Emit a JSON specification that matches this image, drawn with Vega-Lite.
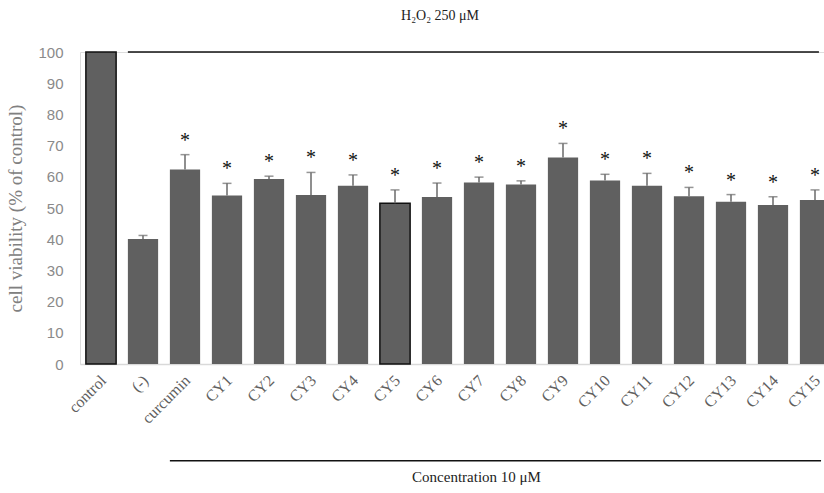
{
  "$schema": "https://vega.github.io/schema/vega-lite/v6.json",
  "autosize": "none",
  "width": 744,
  "height": 312,
  "padding": {"left": 80, "top": 52, "right": 0, "bottom": 129},
  "background": "white",
  "config": {
    "axisY": {
      "titleFont": "Liberation Serif", "titleFontSize": 19, "titleFontWeight": "normal", "titleColor": "#808080",
      "titlePadding": 12,
      "labelFont": "Liberation Sans", "labelFontSize": 15, "labelColor": "#8a8a8a", "labelPadding": 17,
      "labelOverlap": false, "labelFlush": false,
      "ticks": false, "domain": false, "grid": false
    }
  },
  "title": {"text": "H₂O₂ 250 μM", "font": "Liberation Serif", "fontSize": 14, "fontWeight": "normal", "color": "#222", "dx": -12, "offset": 22},
  "data": {"values": [
    {"name": "control", "value": 100, "err": null, "sig": null},
    {"name": "(-)", "value": 40.1, "err": 41.2, "sig": null},
    {"name": "curcumin", "value": 62.3, "err": 67.1, "sig": "*"},
    {"name": "CY1", "value": 54.0, "err": 57.9, "sig": "*"},
    {"name": "CY2", "value": 59.3, "err": 60.2, "sig": "*"},
    {"name": "CY3", "value": 54.2, "err": 61.4, "sig": "*"},
    {"name": "CY4", "value": 57.1, "err": 60.6, "sig": "*"},
    {"name": "CY5", "value": 51.5, "err": 55.8, "sig": "*"},
    {"name": "CY6", "value": 53.5, "err": 58.0, "sig": "*"},
    {"name": "CY7", "value": 58.2, "err": 59.9, "sig": "*"},
    {"name": "CY8", "value": 57.5, "err": 58.7, "sig": "*"},
    {"name": "CY9", "value": 66.2, "err": 70.7, "sig": "*"},
    {"name": "CY10", "value": 58.8, "err": 60.8, "sig": "*"},
    {"name": "CY11", "value": 57.1, "err": 61.1, "sig": "*"},
    {"name": "CY12", "value": 53.8, "err": 56.6, "sig": "*"},
    {"name": "CY13", "value": 52.0, "err": 54.3, "sig": "*"},
    {"name": "CY14", "value": 51.0, "err": 53.6, "sig": "*"},
    {"name": "CY15", "value": 52.6, "err": 55.8, "sig": "*"}
  ]},
  "encoding": {
    "x": {
      "field": "name", "type": "nominal", "sort": null,
      "scale": {"range": [0, 756], "paddingInner": 0.28, "paddingOuter": 0.14},
      "axis": {
        "title": "Concentration 10 μM",
        "titleFont": "Liberation Serif", "titleFontSize": 15, "titleFontWeight": "normal", "titleColor": "#222",
        "titleX": 396, "titleY": 112, "titleBaseline": "middle", "titleAnchor": "middle", "titleAlign": "center",
        "labelAngle": -45, "labelFont": "Liberation Serif", "labelFontSize": 16, "labelColor": "#606060",
        "labelPadding": 8, "labelOffset": -3, "ticks": false, "domainColor": "#d9d9d9", "domainWidth": 1.5, "grid": false,
        "labelOverlap": false, "labelBound": false
      }
    }
  },
  "layer": [
    {
      "mark": {"type": "bar", "color": "#606060", "strokeWidth": 1.5},
      "encoding": {
        "y": {
          "field": "value", "type": "quantitative",
          "scale": {"domain": [0, 100], "nice": false},
          "axis": {"title": "cell viability (% of control)", "values": [0, 10, 20, 30, 40, 50, 60, 70, 80, 90, 100]}
        },
        "stroke": {
          "condition": {"test": "datum.name === 'control' || datum.name === 'CY5'", "value": "#111"},
          "value": null
        }
      }
    },
    {
      "transform": [{"filter": "datum.err != null"}],
      "mark": {"type": "rule", "color": "#6a6a6a", "strokeWidth": 1.5},
      "encoding": {
        "y": {"field": "value", "type": "quantitative", "axis": {"title": "cell viability (% of control)", "values": [0, 10, 20, 30, 40, 50, 60, 70, 80, 90, 100]}},
        "y2": {"field": "err"}
      }
    },
    {
      "transform": [{"filter": "datum.err != null"}],
      "mark": {"type": "tick", "color": "#6a6a6a", "size": 9, "thickness": 1.5, "orient": "horizontal"},
      "encoding": {
        "y": {"field": "err", "type": "quantitative", "axis": {"title": "cell viability (% of control)", "values": [0, 10, 20, 30, 40, 50, 60, 70, 80, 90, 100]}}
      }
    },
    {
      "transform": [{"filter": "datum.sig != null"}],
      "mark": {"type": "text", "font": "Liberation Serif", "fontSize": 20, "color": "#111", "baseline": "middle", "dy": -14},
      "encoding": {
        "y": {"field": "err", "type": "quantitative", "axis": {"title": "cell viability (% of control)", "values": [0, 10, 20, 30, 40, 50, 60, 70, 80, 90, 100]}},
        "text": {"field": "sig"}
      }
    },
    {
      "data": {"values": [{}]},
      "mark": {"type": "rule", "color": "#111", "strokeWidth": 1.5},
      "encoding": {
        "x": {"datum": "(-)", "bandPosition": 0},
        "x2": {"datum": "CY15", "bandPosition": 0.63},
        "y": {"datum": 100, "axis": {"title": "cell viability (% of control)", "values": [0, 10, 20, 30, 40, 50, 60, 70, 80, 90, 100]}}
      }
    },
    {
      "data": {"values": [{}]},
      "mark": {"type": "rule", "color": "#111", "strokeWidth": 1.5},
      "encoding": {
        "x": {"datum": "curcumin", "bandPosition": 0},
        "x2": {"datum": "CY15", "bandPosition": 0.7},
        "y": {"datum": -31, "axis": {"title": "cell viability (% of control)", "values": [0, 10, 20, 30, 40, 50, 60, 70, 80, 90, 100]}}
      }
    }
  ]
}
